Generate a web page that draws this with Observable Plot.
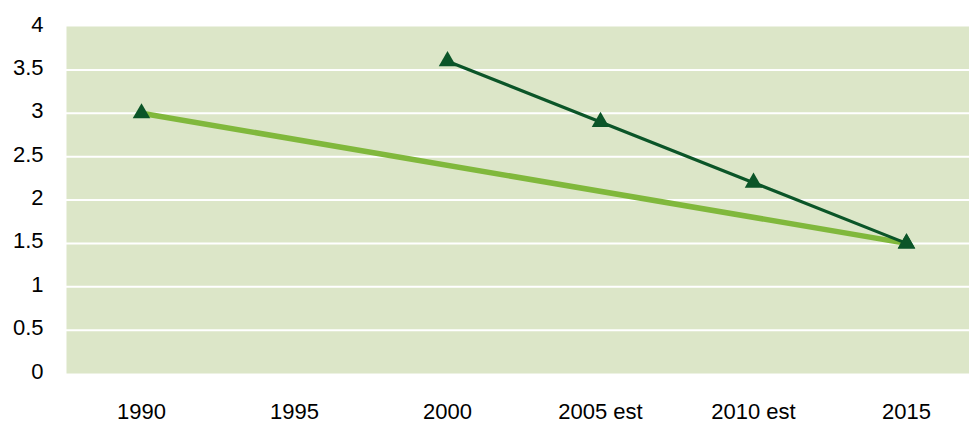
<!DOCTYPE html>
<html>
<head>
<meta charset="utf-8">
<script src="https://cdn.jsdelivr.net/npm/d3@7"></script>
<script src="https://cdn.jsdelivr.net/npm/@observablehq/plot@0.6"></script>
<style>
  body { margin: 0; background: #fff; }
  #chart svg { display: block; }
</style>
</head>
<body>
<div id="chart"></div>
<script>
const categories = ["1990", "1995", "2000", "2005 est", "2010 est", "2015"];
const lightCats = ["1990", "2015"];
const lightValues = [3.0, 1.5];
const darkCats = ["2000", "2005 est", "2010 est", "2015"];
const darkValues = [3.6, 2.9, 2.2, 1.5];
const yTicks = [0, 0.5, 1, 1.5, 2, 2.5, 3, 3.5, 4];
const gridTicks = [0.5, 1, 1.5, 2, 2.5, 3, 3.5];

const light = lightCats.map((c, i) => ({cat: c, value: lightValues[i]}));
const dark = darkCats.map((c, i) => ({cat: c, value: darkValues[i]}));

const bg = "#dce6c8";
const lightGreen = "#80b83c";
const darkGreen = "#0b5528";

const chart = Plot.plot({
  width: 969,
  height: 423,
  marginLeft: 66,
  marginRight: 0,
  marginTop: 26,
  marginBottom: 50,
  style: {fontFamily: "'Liberation Sans', Arial, sans-serif", fontSize: "22px", color: "#000", background: "#fff"},
  x: {type: "point", domain: categories, padding: 0, insetLeft: 74, insetRight: 63, label: null},
  y: {domain: [0, 4], label: null},
  marks: [
    Plot.frame({fill: bg, stroke: null}),
    Plot.ruleY(gridTicks, {stroke: "#fff", strokeWidth: 2}),
    Plot.axisY({ticks: yTicks, tickSize: 0, tickPadding: 23, tickFormat: d => String(d), dy: -2, fontSize: 22, label: null}),
    Plot.axisX({tickSize: 0, tickPadding: 30, fontSize: 22, label: null}),
    Plot.line(light, {x: "cat", y: "value", stroke: lightGreen, strokeWidth: 5.5}),
    Plot.line(dark, {x: "cat", y: "value", stroke: darkGreen, strokeWidth: 3.2}),
    Plot.dot(light, {x: "cat", y: "value", symbol: "triangle", r: 6.5, fill: darkGreen, stroke: null}),
    Plot.dot(dark, {x: "cat", y: "value", symbol: "triangle", r: 6.5, fill: darkGreen, stroke: null})
  ]
});
document.getElementById("chart").appendChild(chart);
</script>
</body>
</html>
